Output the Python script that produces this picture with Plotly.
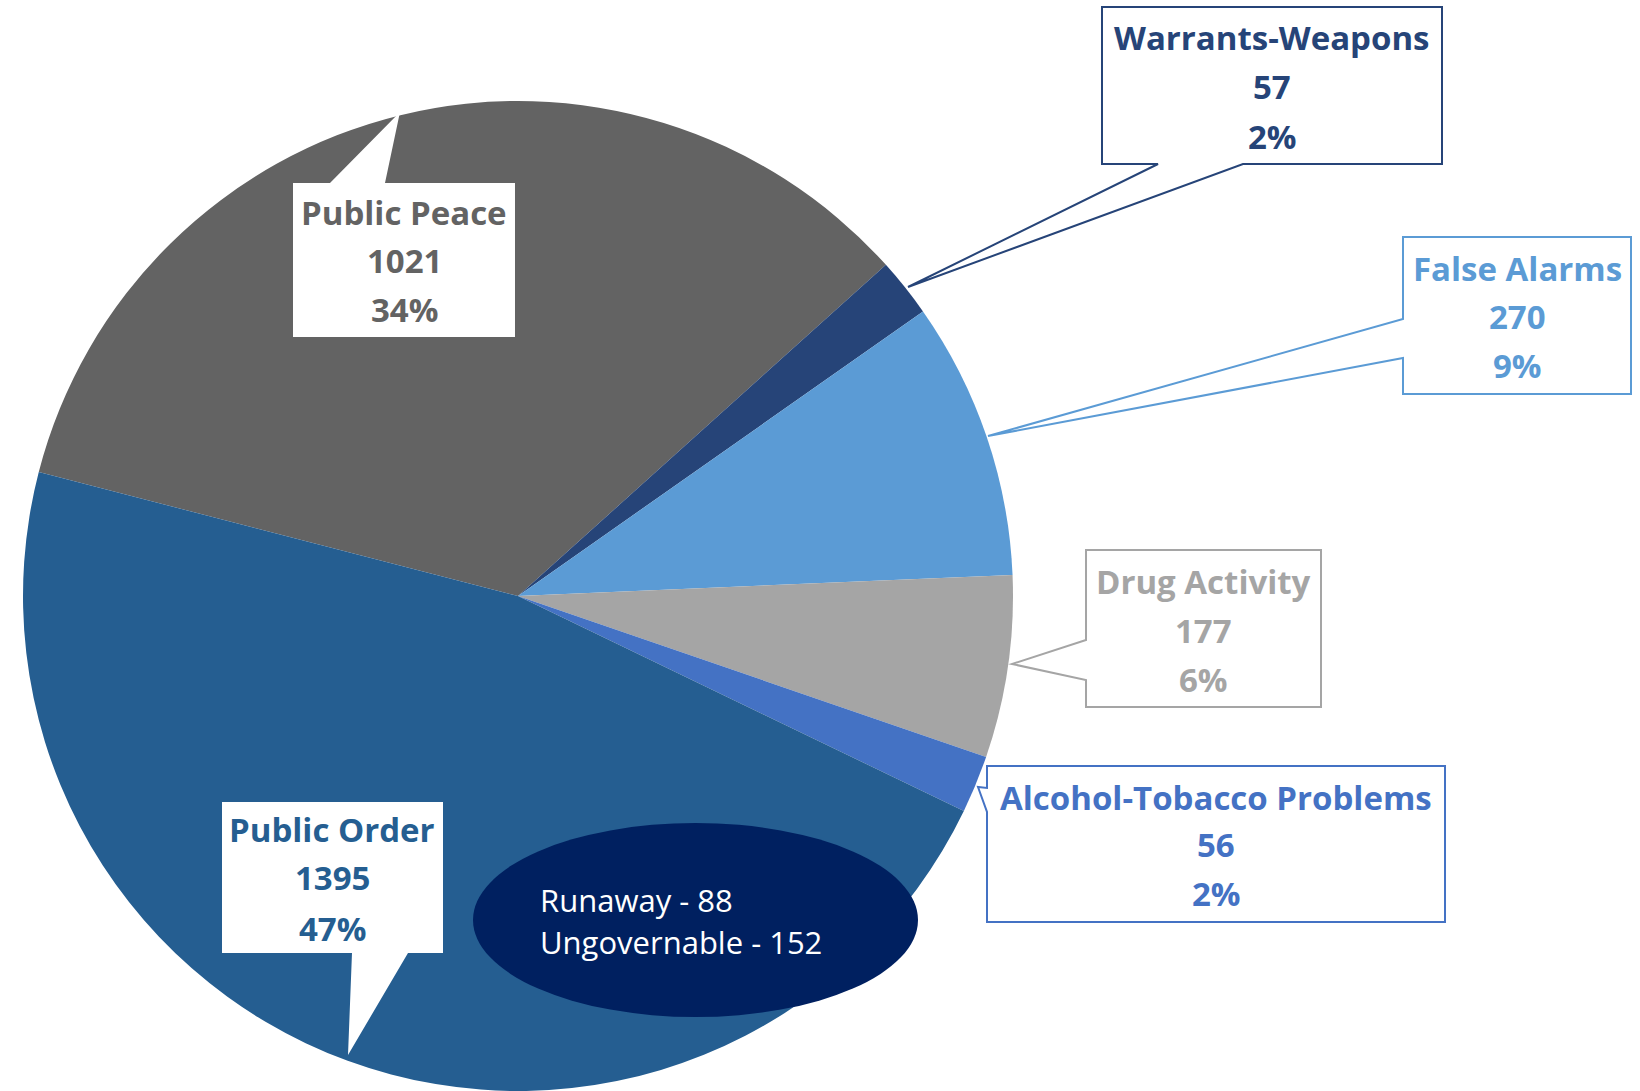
import plotly.graph_objects as go

W, H = 1640, 1091

# ---- data ----
categories = ["Public Peace", "Warrants-Weapons", "False Alarms", "Drug Activity",
              "Alcohol-Tobacco Problems", "Public Order"]
counts = [1021, 57, 270, 177, 56, 1395]
slice_colors = ["#636363", "#264478", "#5B9BD5", "#A5A5A5", "#4472C4", "#255E91"]
label_colors = ["#636363", "#264478", "#5B9BD5", "#A5A5A5", "#4472C4", "#255E91"]
sub_labels = ["Runaway - 88", "Ungovernable - 152"]

total = sum(counts)
pct_labels = [f"{round(v / total * 100)}%" for v in counts]

FONT = "'Open Sans', Lato, Carlito, Calibri, sans-serif"


def px(x):
    return x / W


def py(y):
    return 1 - y / H


def path_from(points):
    s = "M " + " L ".join(f"{px(x):.5f},{py(y):.5f}" for x, y in points) + " Z"
    return s


# pie geometry (pixels)
cx, cy, r = 518, 596, 495

fig = go.Figure(go.Pie(
    labels=categories, values=counts, sort=False, direction="clockwise",
    rotation=-75.5,
    marker=dict(colors=slice_colors, line=dict(width=0)),
    textinfo="none", hoverinfo="label+value+percent", showlegend=False,
    domain=dict(x=[(cx - r) / W, (cx + r) / W], y=[0, (2 * r) / H]),
))

shapes = []

# callout boxes: (outline points, line color, line width)
callouts = {
    "Public Peace": ([(293, 183), (330, 183), (400, 112), (385, 183), (515, 183),
                      (515, 337), (293, 337)], "white", 0),
    "Warrants-Weapons": ([(1102, 7), (1442, 7), (1442, 164), (1243, 164), (908, 287),
                          (1158, 164), (1102, 164)], label_colors[1], 2),
    "False Alarms": ([(1403, 237), (1631, 237), (1631, 394), (1403, 394), (1403, 358),
                      (988, 436), (1403, 319)], label_colors[2], 2),
    "Drug Activity": ([(1086, 550), (1321, 550), (1321, 707), (1086, 707), (1086, 680),
                       (1012, 664), (1086, 640)], label_colors[3], 2),
    "Alcohol-Tobacco Problems": ([(987, 766), (1445, 766), (1445, 922), (987, 922),
                                  (987, 812), (978, 787), (987, 788)], label_colors[4], 2),
    "Public Order": ([(222, 802), (443, 802), (443, 953), (408, 953), (348, 1055),
                      (352, 953), (222, 953)], "white", 0),
}

for name, (pts, lc, lw) in callouts.items():
    shapes.append(dict(type="path", xref="paper", yref="paper", path=path_from(pts),
                       fillcolor="white", line=dict(color=lc, width=lw), layer="above"))

# ellipse with sub-category detail
shapes.append(dict(type="circle", xref="paper", yref="paper",
                   x0=px(473), x1=px(918), y0=py(1017), y1=py(823),
                   fillcolor="#002060", line=dict(width=0), layer="above"))

annotations = []

# label positions (pixel centres of each text line)
label_pos = {
    "Public Peace": (404, [212, 260, 310]),
    "Warrants-Weapons": (1272, [38, 87, 136]),
    "False Alarms": (1517, [268, 316, 365]),
    "Drug Activity": (1203, [581, 630, 679]),
    "Alcohol-Tobacco Problems": (1216, [797, 844, 893]),
    "Public Order": (332, [829, 878, 928]),
}

for i, name in enumerate(categories):
    x, ys = label_pos[name]
    lines = [name, str(counts[i]), pct_labels[i]]
    for txt, y in zip(lines, ys):
        annotations.append(dict(x=px(x), y=py(y), xref="paper", yref="paper",
                                text=f"<b>{txt}</b>", showarrow=False,
                                xanchor="center", yanchor="middle",
                                font=dict(family=FONT, size=33, color=label_colors[i])))

for txt, y in zip(sub_labels, [900, 942]):
    annotations.append(dict(x=px(538), y=py(y), xref="paper", yref="paper",
                            text=txt, showarrow=False, xanchor="left", yanchor="middle",
                            font=dict(family=FONT, size=31, color="white")))

fig.update_layout(
    width=W, height=H,
    margin=dict(l=0, r=0, t=0, b=0),
    paper_bgcolor="white", plot_bgcolor="white",
    shapes=shapes, annotations=annotations,
    showlegend=False,
)

fig.write_html(
    "out.html",
    config={"displayModeBar": False},
    post_script="document.body.style.margin='0px';document.body.style.padding='0px';"
                "document.documentElement.style.overflow='hidden';",
)
